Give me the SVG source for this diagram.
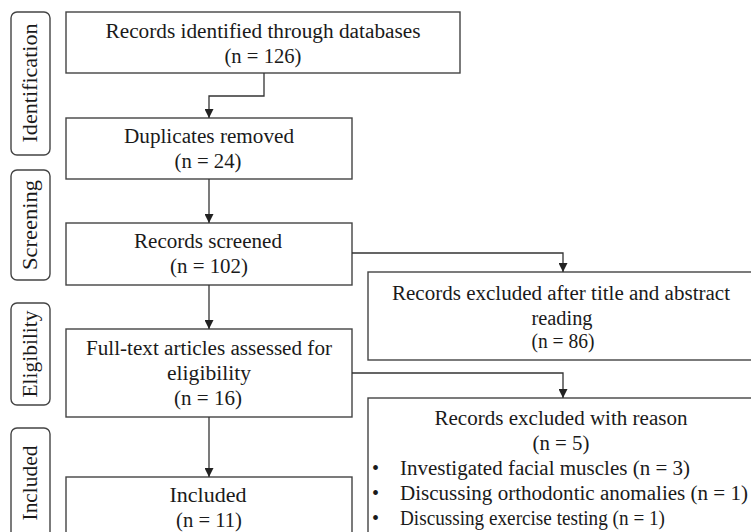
<svg xmlns="http://www.w3.org/2000/svg" width="751" height="532" viewBox="0 0 751 532">
<defs>
<marker id="ah" viewBox="0 0 10 10" refX="10" refY="5" markerWidth="9" markerHeight="9" markerUnits="userSpaceOnUse" orient="auto">
<path d="M0,0 L10,5 L0,10 z" fill="#222"/>
</marker>
<style>
.box{fill:#fff;stroke:#444;stroke-width:1.4}
.stage{fill:#fff;stroke:#444;stroke-width:1.4}
text{font-family:"Liberation Serif","Times New Roman",serif;font-size:20px;fill:#1a1a1a}
.t{text-anchor:middle}
.tl{text-anchor:start}
.conn{fill:none;stroke:#333;stroke-width:1.3}
</style>
</defs>
<rect width="751" height="532" fill="#fff"/>
<g id="stage-identification"><rect class="stage" x="11" y="12" width="39" height="143" rx="6"/><text class="t" transform="translate(37,83) rotate(-90)" textLength="119" lengthAdjust="spacingAndGlyphs">Identification</text></g>
<g id="stage-screening"><rect class="stage" x="11" y="170" width="39" height="110" rx="6"/><text class="t" transform="translate(37,225) rotate(-90)" textLength="90" lengthAdjust="spacingAndGlyphs">Screening</text></g>
<g id="stage-eligibility"><rect class="stage" x="11" y="303" width="39" height="102" rx="6"/><text class="t" transform="translate(37,354) rotate(-90)" textLength="87" lengthAdjust="spacingAndGlyphs">Eligibility</text></g>
<g id="stage-included"><rect class="stage" x="11" y="428" width="39" height="120" rx="6"/><text class="t" transform="translate(37,483) rotate(-90)" textLength="75" lengthAdjust="spacingAndGlyphs">Included</text></g>
<g id="identified"><rect class="box" x="66" y="12" width="394" height="61"/><text class="t" x="263" y="38" textLength="315" lengthAdjust="spacingAndGlyphs">Records identified through databases</text><text class="t" x="263" y="63" textLength="77" lengthAdjust="spacingAndGlyphs">(n = 126)</text></g>
<g id="duplicates"><rect class="box" x="66" y="118" width="286" height="61"/><text class="t" x="209" y="143" textLength="170" lengthAdjust="spacingAndGlyphs">Duplicates removed</text><text class="t" x="208" y="168" textLength="67" lengthAdjust="spacingAndGlyphs">(n = 24)</text></g>
<g id="screened"><rect class="box" x="66" y="223" width="286" height="62"/><text class="t" x="208" y="248" textLength="148" lengthAdjust="spacingAndGlyphs">Records screened</text><text class="t" x="209" y="273" textLength="78" lengthAdjust="spacingAndGlyphs">(n = 102)</text></g>
<g id="fulltext"><rect class="box" x="66" y="329" width="286" height="88"/><text class="t" x="209" y="355" textLength="246" lengthAdjust="spacingAndGlyphs">Full-text articles assessed for</text><text class="t" x="209" y="380" textLength="84" lengthAdjust="spacingAndGlyphs">eligibility</text><text class="t" x="208" y="405" textLength="68" lengthAdjust="spacingAndGlyphs">(n = 16)</text></g>
<g id="included"><rect class="box" x="66" y="477" width="286" height="70"/><text class="t" x="208" y="502" textLength="77" lengthAdjust="spacingAndGlyphs">Included</text><text class="t" x="209" y="527" textLength="66" lengthAdjust="spacingAndGlyphs">(n = 11)</text></g>
<g id="excluded-title"><rect class="box" x="368" y="272" width="395" height="88"/><text class="t" x="561" y="300" textLength="338" lengthAdjust="spacingAndGlyphs">Records excluded after title and abstract</text><text class="t" x="562" y="325" textLength="61" lengthAdjust="spacingAndGlyphs">reading</text><text class="t" x="563" y="348" textLength="63" lengthAdjust="spacingAndGlyphs">(n = 86)</text></g>
<g id="excluded-reason"><rect class="box" x="368" y="398" width="395" height="150"/><text class="t" x="561" y="425" textLength="253" lengthAdjust="spacingAndGlyphs">Records excluded with reason</text><text class="t" x="561" y="450" textLength="57" lengthAdjust="spacingAndGlyphs">(n = 5)</text>
<text class="tl" x="372" y="475">•</text><text class="tl" x="400" y="475" textLength="290" lengthAdjust="spacingAndGlyphs">Investigated facial muscles  (n = 3)</text>
<text class="tl" x="372" y="500">•</text><text class="tl" x="400" y="500" textLength="348" lengthAdjust="spacingAndGlyphs">Discussing orthodontic anomalies (n = 1)</text>
<text class="tl" x="372" y="525">•</text><text class="tl" x="400" y="525" textLength="265" lengthAdjust="spacingAndGlyphs">Discussing exercise testing (n = 1)</text></g>
<g id="connectors">
<path class="conn" d="M264,73 V96 H209 V118" marker-end="url(#ah)"/>
<path class="conn" d="M209,179 V223" marker-end="url(#ah)"/>
<path class="conn" d="M209,285 V329" marker-end="url(#ah)"/>
<path class="conn" d="M209,417 V477" marker-end="url(#ah)"/>
<path class="conn" d="M352,253 H563 V272" marker-end="url(#ah)"/>
<path class="conn" d="M352,373 H563 V398" marker-end="url(#ah)"/>
</g>
</svg>
